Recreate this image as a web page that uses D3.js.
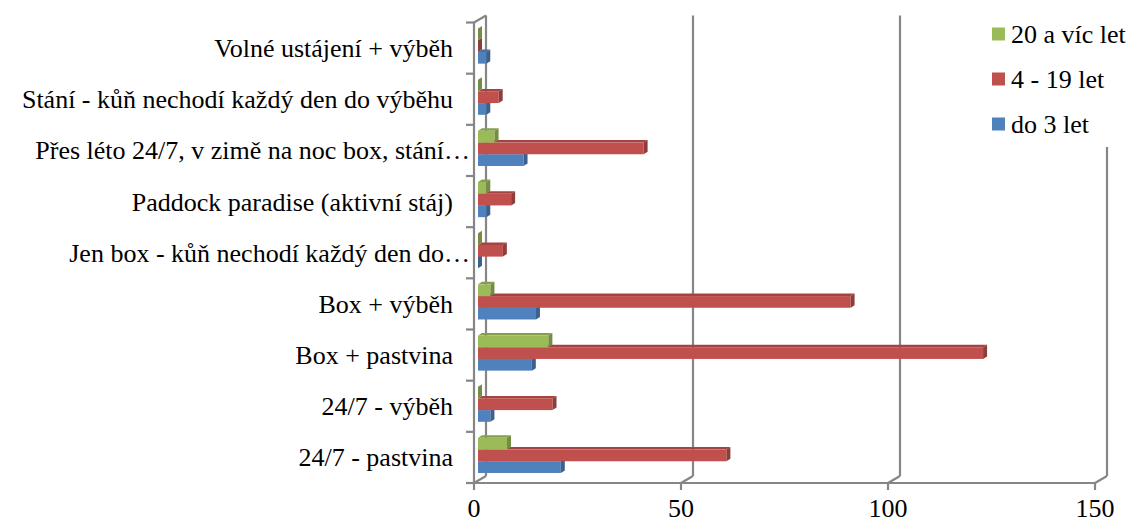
<!DOCTYPE html>
<html>
<head>
<meta charset="utf-8">
<script src="https://cdn.jsdelivr.net/npm/d3@7/dist/d3.min.js"></script>
<style>
  body { margin: 0; background: #fff; }
</style>
</head>
<body>
<svg id="chart"></svg>
<script>
// Categories in sheet order (bottom of the chart first)
const categories = [
    "24/7 - pastvina",
    "24/7 - výběh",
    "Box + pastvina",
    "Box + výběh",
    "Jen box - kůň nechodí každý den do…",
    "Paddock paradise (aktivní stáj)",
    "Přes léto 24/7, v zimě na noc box, stání…",
    "Stání - kůň nechodí každý den do výběhu",
    "Volné ustájení + výběh"
];
const seriesNames = ["20 a víc let", "4 - 19 let", "do 3 let"];
const seriesColors = ["#9BBB59", "#C0504D", "#4F81BD"];
const over20 = [7, 0, 17, 3, 0, 2, 4, 0, 0];
const from4to19 = [60, 18, 122, 90, 6, 8, 40, 5, 0];
const upTo3 = [20, 3, 13, 14, 0, 2, 11, 2, 2];
const xTicks = [0, 50, 100, 150];

const W = 1131, H = 524;
const FONT = "'Liberation Serif', Tinos, 'Times New Roman', Times, 'Noto Serif', 'DejaVu Serif', serif";
const depth = { dx: 12, dy: -7 };     // depth of the whole plot box
const barShift = { dx: 4, dy: -2 };   // bars sit a bit behind the front plane
const barDepth = { dx: 4, dy: -2.5 }; // depth of one bar
const gridColor = "#868686";
const lineW = 2.2;

const svg = d3.select("#chart")
    .attr("width", W)
    .attr("height", H)
    .attr("font-family", FONT);

const x = d3.scaleLinear()
    .domain([0, 150])
    .range([474, 1095]);

// top category at the top
const y0 = d3.scaleBand()
    .domain(categories.slice().reverse())
    .range([22.5, 483])
    .paddingInner(0.314)
    .paddingOuter(0.157);

const y1 = d3.scaleBand()
    .domain(seriesNames)
    .range([0, y0.bandwidth()]);

const values = [over20, from4to19, upTo3];

// back wall gridlines
const grid = svg.append("g").attr("class", "grid");
grid.selectAll(".back")
    .data(xTicks)
    .enter()
    .append("line")
    .attr("x1", d => x(d) + depth.dx)
    .attr("x2", d => x(d) + depth.dx)
    .attr("y1", 22.5 + depth.dy)
    .attr("y2", 483 + depth.dy)
    .attr("stroke", gridColor)
    .attr("stroke-width", lineW);

// floor gridlines (short diagonals)
grid.selectAll(".floor")
    .data(xTicks)
    .enter()
    .append("line")
    .attr("x1", d => x(d))
    .attr("x2", d => x(d) + depth.dx)
    .attr("y1", 483)
    .attr("y2", 483 + depth.dy)
    .attr("stroke", gridColor)
    .attr("stroke-width", lineW);

// top edge of the side wall
grid.append("line")
    .attr("x1", x(0)).attr("y1", 22.5)
    .attr("x2", x(0) + depth.dx).attr("y2", 22.5 + depth.dy)
    .attr("stroke", gridColor).attr("stroke-width", lineW);

// value axis (front of the floor)
const axisG = svg.append("g").attr("class", "axes");
axisG.append("line")
    .attr("x1", x(0)).attr("x2", x(150))
    .attr("y1", 483).attr("y2", 483)
    .attr("stroke", gridColor).attr("stroke-width", lineW);
axisG.selectAll(".xtick")
    .data(xTicks)
    .enter()
    .append("line")
    .attr("x1", d => x(d)).attr("x2", d => x(d))
    .attr("y1", 483).attr("y2", 490)
    .attr("stroke", gridColor).attr("stroke-width", lineW);
axisG.selectAll(".xlabel")
    .data(xTicks)
    .enter()
    .append("text")
    .attr("x", d => x(d))
    .attr("y", 517)
    .attr("text-anchor", "middle")
    .style("font-size", "26px")
    .text(d => d);

// category axis
axisG.append("line")
    .attr("x1", x(0)).attr("x2", x(0))
    .attr("y1", 22.5).attr("y2", 483)
    .attr("stroke", gridColor).attr("stroke-width", lineW);
const boundaries = d3.range(categories.length + 1).map(i => 22.5 + i * y0.step());
axisG.selectAll(".ytick")
    .data(boundaries)
    .enter()
    .append("line")
    .attr("x1", x(0) - 8).attr("x2", x(0))
    .attr("y1", d => d).attr("y2", d => d)
    .attr("stroke", gridColor).attr("stroke-width", lineW);
axisG.selectAll(".ylabel")
    .data(categories)
    .enter()
    .append("text")
    .attr("x", d => d.endsWith("…") ? 470 : 453)
    .attr("y", d => y0(d) + y0.bandwidth() / 2 + 9)
    .attr("text-anchor", "end")
    .style("font-size", "26px")
    .text(d => d);

// bars: draw from the bottom up so upper bars hide the top faces below them
const bars = [];
categories.forEach((c, ci) => {
    [2, 1, 0].forEach(si => {
        bars.push({ cat: c, series: seriesNames[si], color: seriesColors[si], value: values[si][ci] });
    });
});

const barG = svg.append("g").attr("class", "bars");
bars.forEach(b => {
    const xa = x(0) + barShift.dx;
    const xb = x(b.value) + barShift.dx;
    const top = y0(b.cat) + y1(b.series) + barShift.dy;
    const bot = top + y1.bandwidth();
    const col = d3.color(b.color);
    const g = barG.append("g");
    // top face
    g.append("path")
        .attr("d", `M${xa},${top} L${xb},${top} L${xb + barDepth.dx},${top + barDepth.dy} L${xa + barDepth.dx},${top + barDepth.dy} Z`)
        .attr("fill", col.darker(0.45));
    // front face
    g.append("rect")
        .attr("x", xa)
        .attr("y", top)
        .attr("width", xb - xa)
        .attr("height", bot - top)
        .attr("fill", b.color);
    // right side face
    g.append("path")
        .attr("d", `M${xb},${top} L${xb + barDepth.dx},${top + barDepth.dy} L${xb + barDepth.dx},${bot + barDepth.dy} L${xb},${bot} Z`)
        .attr("fill", col.darker(0.8));
});

// legend (white box hides the gridline behind it)
const legend = svg.append("g").attr("class", "legend");
legend.append("rect")
    .attr("x", 985).attr("y", 0)
    .attr("width", 146).attr("height", 147)
    .attr("fill", "#fff");
const items = legend.selectAll(".item")
    .data(seriesNames)
    .enter()
    .append("g")
    .attr("transform", (d, i) => `translate(992,${34 + i * 45})`);
items.append("rect")
    .attr("x", 0).attr("y", -6.5)
    .attr("width", 13).attr("height", 13)
    .attr("fill", (d, i) => seriesColors[i]);
items.append("text")
    .attr("x", 19)
    .attr("y", 8.5)
    .style("font-size", "26px")
    .text(d => d);
</script>
</body>
</html>
